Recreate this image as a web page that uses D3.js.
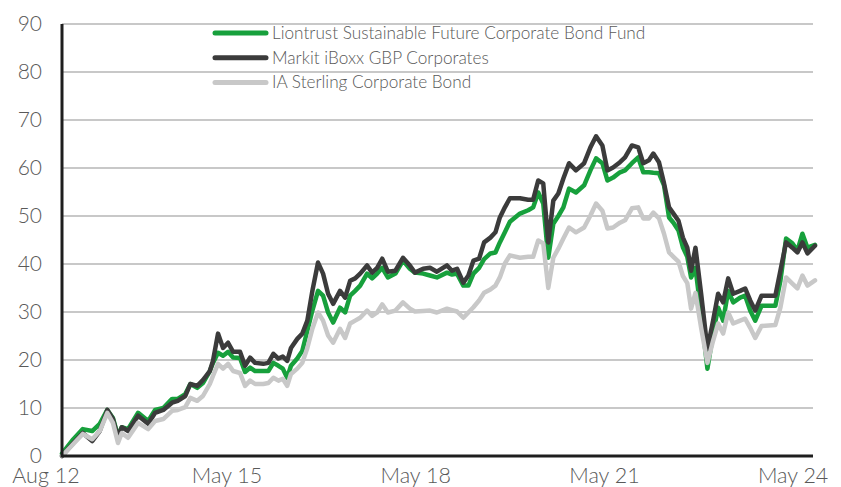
<!DOCTYPE html>
<html><head><meta charset="utf-8">
<script src="https://cdn.jsdelivr.net/npm/d3@7"></script>
<style>
body{margin:0;background:#fff}
svg text{font-family:'Lato Light',Lato,'Open Sans',sans-serif;font-weight:300;fill:#595959}
</style>
</head><body>
<svg id="chart" width="841" height="487"></svg>
<script>
// Time (decimal years)
const years = [2012.71,2012.89,2013.04,2013.19,2013.31,2013.43,2013.52,2013.60,2013.66,2013.76,
2013.92,2014.08,2014.19,2014.32,2014.46,2014.55,2014.67,2014.75,2014.86,2014.95,
2015.06,2015.11,2015.19,2015.27,2015.35,2015.43,2015.54,2015.62,2015.70,2015.78,
2015.91,2015.99,2016.07,2016.15,2016.22,2016.29,2016.35,2016.45,2016.53,2016.61,
2016.69,2016.78,2016.86,2016.94,2017.02,2017.13,2017.21,2017.29,2017.37,2017.45,
2017.56,2017.64,2017.72,2017.80,2017.89,2018.01,2018.13,2018.24,2018.32,2018.45,
2018.56,2018.67,2018.83,2018.91,2018.99,2019.09,2019.17,2019.25,2019.34,2019.42,
2019.52,2019.60,2019.67,2019.75,2019.83,2019.99,2020.12,2020.20,2020.28,2020.36,
2020.44,2020.52,2020.60,2020.68,2020.77,2020.88,2021.01,2021.11,2021.20,2021.30,
2021.38,2021.47,2021.58,2021.66,2021.77,2021.87,2021.95,2022.04,2022.11,2022.20,
2022.28,2022.36,2022.43,2022.51,2022.58,2022.65,2022.71,2022.78,2022.87,2022.97,
2023.06,2023.14,2023.22,2023.30,2023.38,2023.49,2023.57,2023.65,2023.73,2023.83,
2024.05,2024.13,2024.22,2024.32,2024.40,2024.48,2024.56,2024.68];

const liontrust = [0.5,3.5,5.6,5.2,6.7,9.6,7.9,4.2,6.0,5.6,
9.0,7.3,9.6,10.0,11.9,11.9,12.9,15.0,14.2,15.2,
17.7,19.4,21.5,20.9,21.7,20.5,20.4,17.5,18.4,17.7,
17.7,17.7,19.4,18.8,18.2,16.3,18.8,20.3,21.9,26.1,
30.3,34.4,33.4,29.9,27.8,30.9,29.9,33.4,34.4,35.5,
38.0,37.0,38.0,39.2,37.2,38.0,40.7,39.0,38.2,38.0,
37.6,37.2,38.2,37.8,38.0,35.5,35.5,38.0,39.2,41.0,
42.2,42.4,44.5,46.6,48.8,50.5,51.2,51.8,54.9,52.6,
41.3,48.4,50.0,51.8,55.7,54.9,56.4,59.5,62.0,61.0,
57.4,58.0,59.1,59.5,61.0,62.2,59.1,59.1,59.0,58.9,
56.4,49.7,48.6,47.0,43.5,41.5,37.2,39.2,29.6,18.2,
25.5,30.9,28.2,34.4,32.0,33.0,33.4,30.3,28.2,31.3,
31.3,36.5,45.3,44.3,42.8,46.3,43.4,44.0];

const markit = [0.0,2.7,4.8,3.1,5.2,9.6,7.7,3.8,6.0,5.2,
8.4,6.7,9.0,9.6,11.1,11.5,12.5,15.0,14.6,15.8,
17.7,19.8,25.5,22.5,23.6,21.7,21.7,18.8,20.5,19.4,
19.2,19.4,21.3,20.3,20.7,19.8,22.5,24.4,25.5,28.2,
34.4,40.3,38.0,33.8,31.7,34.4,33.0,36.5,37.0,38.0,
39.7,38.2,39.2,41.1,38.4,38.6,41.3,39.7,38.2,39.0,
39.2,38.4,39.7,38.6,39.0,36.1,37.6,40.7,41.1,44.5,
45.5,46.6,49.7,51.8,53.7,53.7,53.4,53.4,57.4,56.8,
44.5,53.2,54.7,57.8,61.0,59.5,61.0,64.3,66.6,64.7,
59.5,60.1,61.2,62.2,64.7,64.3,61.0,61.6,63.0,61.2,
56.8,51.8,50.5,49.0,45.5,43.4,38.6,43.4,33.8,22.3,
28.2,33.8,32.0,37.0,33.8,34.4,34.9,32.4,30.3,33.4,
33.4,38.6,44.5,43.4,42.4,44.5,42.2,43.8];

const iaSterling = [0.0,2.5,4.6,3.5,5.2,9.0,6.9,2.7,4.8,3.8,
6.9,5.6,7.3,7.7,9.4,9.6,10.2,12.1,11.5,12.5,
15.0,16.7,19.2,18.2,19.2,17.7,17.3,14.6,15.7,15.0,
15.0,15.2,16.3,15.7,16.1,14.6,17.1,18.2,19.4,22.5,
26.5,29.9,28.2,25.1,23.6,26.5,24.6,27.6,28.2,28.8,
30.3,29.2,29.9,31.6,29.9,30.3,32.0,30.7,30.1,30.2,
30.3,29.9,30.7,30.4,30.1,28.8,29.9,31.0,32.4,34.0,
34.7,35.5,37.2,40.1,41.8,41.3,41.5,41.5,44.9,44.3,
35.0,41.3,43.2,45.3,47.6,46.6,47.6,50.1,52.6,51.1,
47.4,47.6,48.6,49.1,51.6,51.8,49.5,49.5,50.7,49.5,
46.3,42.4,41.5,40.5,37.5,36.0,30.7,34.0,26.7,19.4,
24.0,27.6,25.5,29.9,27.6,28.2,28.6,26.7,24.6,27.1,
27.3,30.9,37.2,35.9,34.9,37.6,35.5,36.6];

const seriesNames = ["Liontrust Sustainable Future Corporate Bond Fund","Markit iBoxx GBP Corporates","IA Sterling Corporate Bond"];
const seriesColors = ["#17a03c","#3b3b3b","#c8c8c8"];
const yTicks = [0,10,20,30,40,50,60,70,80,90];
const xTickLabels = ["Aug 12","May 15","May 18","May 21","May 24"];
const xTickYears = [2012.583,2015.333,2018.333,2021.333,2024.333];

const svg = d3.select("#chart");
const x = d3.scaleLinear().domain([d3.min(years), d3.max(years)]).range([62, 815]);
const y = d3.scaleLinear().domain([0, 90]).range([456, 24]);

// gridlines
svg.append("g").selectAll("line").data(yTicks.filter(d=>d>0)).join("line")
  .attr("x1", 62).attr("x2", 813)
  .attr("y1", d=>y(d)).attr("y2", d=>y(d))
  .attr("stroke", "#c8c8c8").attr("stroke-width", 2);

// y tick labels
svg.append("g").selectAll("text").data(yTicks).join("text")
  .attr("x", 42).attr("y", d=>y(d)).attr("dy", "0.35em")
  .attr("text-anchor", "end").attr("font-size", 21).text(d=>d);

// x tick labels
svg.append("g").selectAll("text").data(xTickYears).join("text")
  .attr("x", d=>x(d)).attr("dx", (d,i)=> i===0 ? -8 : 0).attr("y", 483)
  .attr("text-anchor", "middle").attr("font-size", 21.5).text((d,i)=>xTickLabels[i]);

// lines
const allSeries = [liontrust, markit, iaSterling];
const line = d3.line().x((d,i)=>x(years[i])).y(d=>y(d)).curve(d3.curveLinear);
allSeries.forEach((s,k)=>{
  svg.append("path").datum(s).attr("d", line)
    .attr("fill","none").attr("stroke", seriesColors[k])
    .attr("stroke-width", 4.5).attr("stroke-linejoin","round").attr("stroke-linecap","round");
});

// axes lines
svg.append("line").attr("x1",62).attr("x2",62).attr("y1",y(90)).attr("y2",457.5)
  .attr("stroke","#1e1e1e").attr("stroke-width",3);
svg.append("line").attr("x1",62).attr("x2",813).attr("y1",y(0)).attr("y2",y(0))
  .attr("stroke","#1e1e1e").attr("stroke-width",3);

// legend
const lg = svg.append("g");
seriesNames.forEach((n,k)=>{
  const yy = 33 + k*24.7;
  lg.append("line").attr("x1",215).attr("x2",266).attr("y1",yy).attr("y2",yy)
    .attr("stroke",seriesColors[k]).attr("stroke-width",5).attr("stroke-linecap","round");
  lg.append("text").attr("x",272).attr("y",yy).attr("dy","0.35em")
    .attr("font-size",17.2).text(n);
});
</script>
</body></html>
